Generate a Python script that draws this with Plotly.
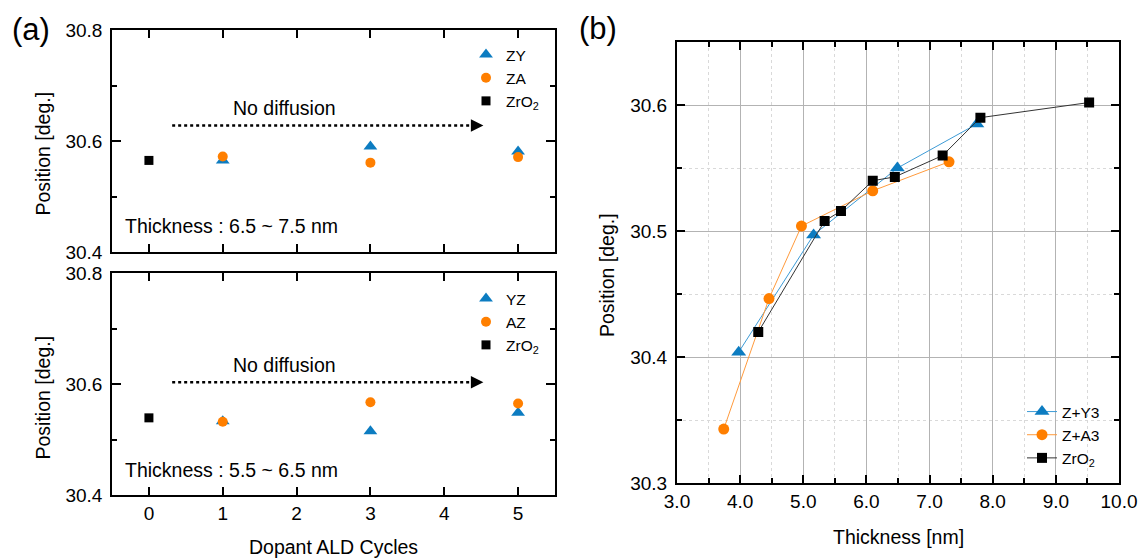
import plotly.graph_objects as go

# ---------------- data ----------------
# panel (a)
cycles_ref = [0]
cycles_dop = [1, 3, 5]
top_zro2 = [30.565]
top_zy = [30.565, 30.590, 30.581]
top_za = [30.572, 30.561, 30.571]
bot_zro2 = [30.539]
bot_yz = [30.533, 30.515, 30.548]
bot_az = [30.532, 30.567, 30.565]
a_xticks = [0, 1, 2, 3, 4, 5]
a_yticks = [30.4, 30.6, 30.8]
a_yticktext = ["30.4", "30.6", "30.8"]
a_yminor = [30.5, 30.7]

# panel (b)
thk_y3 = [3.977, 5.163, 6.49, 7.749]
pos_y3 = [30.404, 30.497, 30.550, 30.585]
thk_a3 = [3.74, 4.457, 4.971, 6.10, 7.308]
pos_a3 = [30.343, 30.4465, 30.504, 30.532, 30.555]
thk_zr = [4.287, 5.338, 5.597, 6.10, 6.45, 7.207, 7.805, 9.527]
pos_zr = [30.420, 30.508, 30.516, 30.540, 30.543, 30.560, 30.590, 30.602]
b_xticks = [3, 4, 5, 6, 7, 8, 9, 10]
b_xticktext = ["3.0", "4.0", "5.0", "6.0", "7.0", "8.0", "9.0", "10.0"]
b_yticks = [30.3, 30.4, 30.5, 30.6]
b_yticktext = ["30.3", "30.4", "30.5", "30.6"]

BLUE = "#0c7cc1"
ORANGE = "#ff7f00"
BLACK = "#000000"
FONT = "Liberation Sans, Arial, sans-serif"
W, H = 1139, 558


def px(x):
    return x / W


def py(y):
    return 1 - y / H


fig = go.Figure()

# ---- panel (a) top ----
fig.add_trace(go.Scatter(x=cycles_dop, y=top_zy, mode="markers", name="ZY",
                         marker=dict(symbol="triangle-up", size=12, color=BLUE),
                         xaxis="x", yaxis="y", legend="legend"))
fig.add_trace(go.Scatter(x=cycles_dop, y=top_za, mode="markers", name="ZA",
                         marker=dict(symbol="circle", size=10, color=ORANGE),
                         xaxis="x", yaxis="y", legend="legend"))
fig.add_trace(go.Scatter(x=cycles_ref, y=top_zro2, mode="markers", name="ZrO<sub>2</sub>",
                         marker=dict(symbol="square", size=9, color=BLACK),
                         xaxis="x", yaxis="y", legend="legend"))
# ---- panel (a) bottom ----
fig.add_trace(go.Scatter(x=cycles_dop, y=bot_yz, mode="markers", name="YZ",
                         marker=dict(symbol="triangle-up", size=12, color=BLUE),
                         xaxis="x2", yaxis="y2", legend="legend2"))
fig.add_trace(go.Scatter(x=cycles_dop, y=bot_az, mode="markers", name="AZ",
                         marker=dict(symbol="circle", size=10, color=ORANGE),
                         xaxis="x2", yaxis="y2", legend="legend2"))
fig.add_trace(go.Scatter(x=cycles_ref, y=bot_zro2, mode="markers", name="ZrO<sub>2</sub>",
                         marker=dict(symbol="square", size=9, color=BLACK),
                         xaxis="x2", yaxis="y2", legend="legend2"))
# ---- panel (b) ----
fig.add_trace(go.Scatter(x=thk_y3, y=pos_y3, mode="lines+markers", name="Z+Y3",
                         line=dict(color="#3d9bd6", width=1),
                         marker=dict(symbol="triangle-up", size=13, color=BLUE),
                         xaxis="x3", yaxis="y3", legend="legend3"))
fig.add_trace(go.Scatter(x=thk_a3, y=pos_a3, mode="lines+markers", name="Z+A3",
                         line=dict(color="#ff9a3c", width=1),
                         marker=dict(symbol="circle", size=11, color=ORANGE),
                         xaxis="x3", yaxis="y3", legend="legend3"))
fig.add_trace(go.Scatter(x=thk_zr, y=pos_zr, mode="lines+markers", name="ZrO<sub>2</sub>",
                         line=dict(color="#333333", width=1),
                         marker=dict(symbol="square", size=10, color=BLACK),
                         xaxis="x3", yaxis="y3", legend="legend3"))

tickfont = dict(family=FONT, size=19, color="black")

a_x_common = dict(range=[-0.5, 5.5], tickvals=a_xticks, ticks="inside", ticklen=8,
                  tickwidth=1.5, tickcolor="black", showline=True, linecolor="black",
                  linewidth=1.6, mirror="allticks", showgrid=False, zeroline=False,
                  tickfont=tickfont, domain=[px(112), px(555)], automargin=False)
a_y_common = dict(range=[30.4, 30.8], tickvals=a_yticks, ticktext=a_yticktext,
                  ticks="inside", ticklen=9, tickwidth=1.5, tickcolor="black",
                  minor=dict(tickvals=a_yminor, ticks="inside", ticklen=5,
                             tickwidth=1.5, tickcolor="black"),
                  showline=True, linecolor="black", linewidth=1.6, mirror="allticks",
                  showgrid=False, zeroline=False, tickfont=tickfont,
                  ticklabelstandoff=4, automargin=False)

legfont = dict(family=FONT, size=15.5, color="black")

fig.update_layout(
    template="none",
    xaxis=dict(a_x_common, anchor="y", showticklabels=False),
    yaxis=dict(a_y_common, anchor="x", domain=[py(252), py(30)]),
    xaxis2=dict(a_x_common, anchor="y2", showticklabels=True),
    yaxis2=dict(a_y_common, anchor="x2", domain=[py(495), py(273)]),
    xaxis3=dict(range=[3, 10], tickvals=b_xticks, ticktext=b_xticktext,
                domain=[px(677), px(1119)], anchor="y3", automargin=False,
                ticks="inside", ticklen=8, tickwidth=1.5, tickcolor="black",
                minor=dict(dtick=0.5, tick0=3, ticks="inside", ticklen=5, tickwidth=1.5,
                           tickcolor="black", showgrid=True, gridcolor="#d9d9d9",
                           griddash="dot", gridwidth=1),
                showline=True, linecolor="black", linewidth=2, mirror="allticks",
                showgrid=True, gridcolor="#b3b3b3", gridwidth=1, zeroline=False,
                tickfont=tickfont),
    yaxis3=dict(range=[30.3, 30.65], tickvals=b_yticks, ticktext=b_yticktext,
                domain=[py(483.3), py(42)], anchor="x3", automargin=False,
                ticks="inside", ticklen=8, tickwidth=1.5, tickcolor="black",
                minor=dict(dtick=0.05, tick0=30.3, ticks="inside", ticklen=5, tickwidth=1.5,
                           tickcolor="black", showgrid=True, gridcolor="#d9d9d9",
                           griddash="dot", gridwidth=1),
                showline=True, linecolor="black", linewidth=2, mirror="allticks",
                showgrid=True, gridcolor="#b3b3b3", gridwidth=1, zeroline=False,
                tickfont=tickfont, ticklabelstandoff=4),
    legend=dict(x=px(466), y=py(38), xanchor="left", yanchor="top",
                bgcolor="rgba(0,0,0,0)", font=legfont, tracegroupgap=0, itemwidth=30),
    legend2=dict(x=px(466), y=py(282), xanchor="left", yanchor="top",
                 bgcolor="rgba(0,0,0,0)", font=legfont, tracegroupgap=0, itemwidth=30),
    legend3=dict(x=px(1022), y=py(395), xanchor="left", yanchor="top",
                 bgcolor="rgba(0,0,0,0)", font=legfont, tracegroupgap=0, itemwidth=30),
    width=W, height=H, margin=dict(l=0, r=0, t=0, b=0, autoexpand=False),
    paper_bgcolor="white", plot_bgcolor="white",
    font=dict(family=FONT, color="black"),
    showlegend=True,
)

annfont = dict(family=FONT, size=19.5, color="black")

# dotted arrows "No diffusion"
arrow_x0, arrow_x1 = 0.315, 4.45
arrow_tip = 4.53
for xr, yr, yv, ty in [("x", "y", 30.628, 30.66), ("x2", "y2", 30.603, 30.634)]:
    fig.add_shape(type="line", xref=xr, yref=yr, x0=arrow_x0, x1=arrow_x1, y0=yv, y1=yv,
                  line=dict(color="black", width=2.5, dash="dot"))
    fig.add_annotation(xref=xr, yref=yr, x=arrow_tip, y=yv, ax=arrow_x1 - 0.02, ay=yv,
                       axref=xr, ayref=yr, text="", showarrow=True, arrowhead=2,
                       arrowsize=1, arrowwidth=2.5, arrowcolor="black")
    fig.add_annotation(xref=xr, yref=yr, x=1.83, y=ty, text="No diffusion", showarrow=False,
                       xanchor="center", yanchor="middle", font=annfont)

fig.add_annotation(xref="x", yref="y", x=-0.35, y=30.446, xanchor="left", yanchor="middle",
                   text="Thickness : 6.5 ~ 7.5 nm", showarrow=False, font=annfont)
fig.add_annotation(xref="x2", yref="y2", x=-0.35, y=30.445, xanchor="left", yanchor="middle",
                   text="Thickness : 5.5 ~ 6.5 nm", showarrow=False, font=annfont)

titlefont = dict(family=FONT, size=19.5, color="black")
for xx, yy in [(42.5, 153), (42.5, 397), (607, 275)]:
    fig.add_annotation(xref="paper", yref="paper", x=px(xx), y=py(yy), text="Position [deg.]",
                       textangle=-90, showarrow=False, xanchor="center", yanchor="middle",
                       font=titlefont)
fig.add_annotation(xref="paper", yref="paper", x=px(333), y=py(547), text="Dopant ALD Cycles",
                   showarrow=False, xanchor="center", yanchor="middle", font=titlefont)
fig.add_annotation(xref="paper", yref="paper", x=px(898), y=py(537), text="Thickness [nm]",
                   showarrow=False, xanchor="center", yanchor="middle", font=titlefont)
fig.add_annotation(xref="paper", yref="paper", x=px(31), y=py(30), text="(a)",
                   showarrow=False, xanchor="center", yanchor="middle",
                   font=dict(family=FONT, size=31, color="black"))
fig.add_annotation(xref="paper", yref="paper", x=px(598), y=py(28), text="(b)",
                   showarrow=False, xanchor="center", yanchor="middle",
                   font=dict(family=FONT, size=31, color="black"))

fig.write_html("out.html")
